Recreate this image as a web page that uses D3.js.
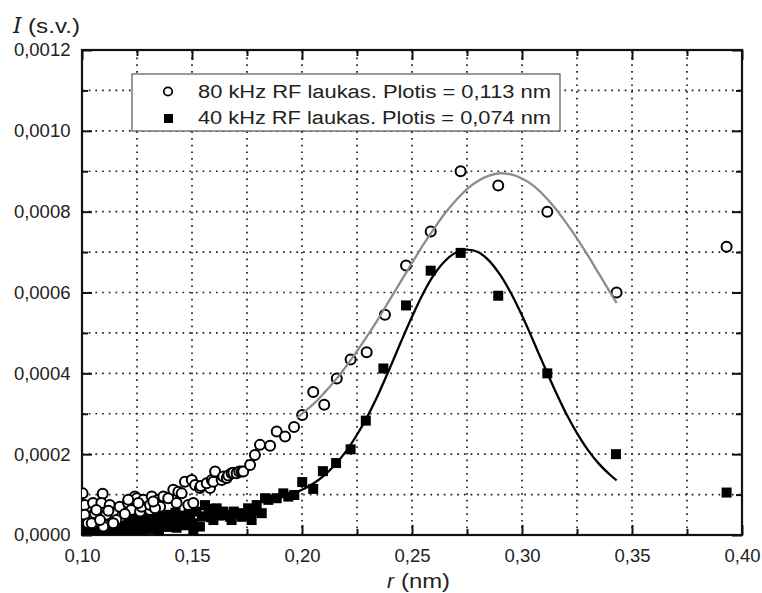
<!DOCTYPE html>
<html>
<head>
<meta charset="utf-8">
<script src="https://cdn.jsdelivr.net/npm/d3@7"></script>
<style>
  html, body { margin: 0; padding: 0; background: #fff; }
  svg { display: block; }
  text { font-family: "Liberation Sans", Arial, sans-serif; fill: #222; }
</style>
</head>
<body>
<svg id="chart" width="762" height="593"></svg>
<script>
// ---------- DATA ----------
const xTicksMajor = [0.10, 0.15, 0.20, 0.25, 0.30, 0.35, 0.40];
const xTicksMinor = [0.125, 0.175, 0.225, 0.275, 0.325, 0.375];
const yTicksMajor = [0.0000, 0.0002, 0.0004, 0.0006, 0.0008, 0.0010, 0.0012];
const yTicksMinor = [0.0001, 0.0003, 0.0005, 0.0007, 0.0009, 0.0011];

const legendLabels = ["80 kHz RF laukas. Plotis = 0,113 nm", "40 kHz RF laukas. Plotis = 0,074 nm"];

// 80 kHz series (open circles)
const circX = [0.1003,0.1094,0.1012,0.1050,0.1088,0.1126,0.1171,0.1209,0.1240,0.1012,0.1058,0.1027,0.1073,0.1110,0.1133,0.1179,0.1224,0.1103,0.1156,
  0.1044,0.1097,0.1142,0.1082,0.1264,0.1309,0.1065,0.1120,0.1195,
  0.1249,0.1279,0.1317,0.1347,0.1370,0.1392,0.1415,0.1438,0.1468,0.1499,0.1483,0.1271,0.1309,0.1355,0.1430,0.1256,0.1332,0.1210,0.1324,0.1453,
  0.1506,0.1514,0.1536,0.1559,0.1582,0.1540,0.1567,0.1590,0.1597,0.1605,0.1635,0.1642,0.1658,0.1665,0.1680,0.1688,0.1703,0.1715,0.1726,0.1733,0.1764,0.1786,0.1809,
  0.1855,0.1885,0.1923,0.1964,0.2001,0.2051,0.2101,0.2158,0.2221,0.2294,0.2377,0.2473,0.2585,0.2721,0.2892,0.3115,0.3430,0.3930];
const circY = [0.000103,0.000102,0.000074,0.000079,0.000079,0.000074,0.000070,0.000079,0.000095,0.000050,0.000054,0.000029,0.000033,0.000050,0.000029,0.000045,0.000062,0.000025,0.000037,
  0.000029,0.000021,0.000029,0.000037,0.000058,0.000062,0.000062,0.000060,0.000052,
  0.000091,0.000087,0.000095,0.000087,0.000095,0.000091,0.000112,0.000107,0.000132,0.000136,0.000074,0.000070,0.000074,0.000070,0.000079,0.000079,0.000066,0.000087,0.000083,0.000103,
  0.000079,0.000124,0.000116,0.000124,0.000116,0.000121,0.000128,0.000136,0.000132,0.000157,0.000136,0.000145,0.000141,0.000147,0.000153,0.000154,0.000153,0.000157,0.000157,0.000157,0.000173,0.000198,0.000223,
  0.000221,0.000256,0.000244,0.000267,0.000297,0.000354,0.000322,0.000387,0.000434,0.000452,0.000545,0.000667,0.000751,0.000900,0.000865,0.000800,0.000600,0.000713];

// 40 kHz series (filled squares)
const sqX = [0.1005,0.1015,0.1025,0.1035,0.1045,0.1055,0.1065,0.1075,0.1085,0.1095,0.1105,0.1115,0.1125,0.1135,0.1145,0.1155,0.1165,0.1175,0.1185,0.1195,
  0.1205,0.1215,0.1225,0.1235,0.1245,0.1255,0.1265,0.1275,0.1285,0.1295,0.1305,0.1315,0.1325,0.1335,0.1345,0.1355,0.1365,0.1375,0.1385,0.1395,
  0.1010,0.1020,0.1030,0.1040,0.1050,0.1060,0.1070,0.1080,0.1090,0.1100,0.1110,0.1120,0.1130,0.1140,0.1150,0.1160,0.1170,0.1180,0.1190,0.1200,
  0.1210,0.1220,0.1230,0.1240,0.1250,0.1260,0.1270,0.1280,0.1290,0.1300,0.1310,0.1320,0.1330,0.1340,0.1350,0.1360,0.1370,0.1380,0.1390,0.1410,
  0.1430,0.1450,0.1465,0.1485,0.1545,0.1585,0.1625,0.1690,0.1725,0.1755,0.1780,
  0.1400,0.1415,0.1425,0.1435,0.1445,0.1455,0.1476,0.1491,0.1506,0.1506,0.1521,0.1536,0.1559,0.1575,0.1597,0.1612,0.1642,0.1658,0.1673,0.1680,
  0.1711,0.1741,0.1764,0.1771,0.1794,0.1817,0.1832,0.1847,0.1885,0.1915,0.1938,0.1965,0.2001,0.2051,0.2095,0.2155,0.2221,0.2290,0.2370,0.2473,
  0.2585,0.2721,0.2892,0.3115,0.3427,0.3930];
const sqY = [0.000015,0.000030,0.000010,0.000022,0.000008,0.000018,0.000028,0.000012,0.000020,0.000005,0.000015,0.000025,0.000010,0.000030,0.000018,0.000008,0.000022,0.000035,0.000015,0.000028,
  0.000020,0.000038,0.000012,0.000030,0.000042,0.000025,0.000035,0.000018,0.000045,0.000030,0.000040,0.000022,0.000048,0.000035,0.000028,0.000021,0.000045,0.000038,0.000030,0.000050,
  0.000006,0.000012,0.000027,0.000010,0.000024,0.000006,0.000014,0.000026,0.000011,0.000022,0.000006,0.000016,0.000024,0.000009,0.000030,0.000018,0.000012,0.000024,0.000038,0.000010,
  0.000028,0.000018,0.000036,0.000014,0.000025,0.000040,0.000012,0.000030,0.000020,0.000042,0.000015,0.000032,0.000025,0.000042,0.000012,0.000032,0.000022,0.000046,0.000020,0.000036,
  0.000018,0.000040,0.000024,0.000052,0.000046,0.000044,0.000048,0.000058,0.000045,0.000066,0.000060,
  0.000029,0.000042,0.000055,0.000035,0.000048,0.000030,0.000041,0.000037,0.000029,0.000012,0.000058,0.000021,0.000074,0.000065,0.000037,0.000066,0.000058,0.000050,0.000045,0.000037,
  0.000054,0.000050,0.000058,0.000037,0.000074,0.000054,0.000091,0.000087,0.000091,0.000103,0.000095,0.000099,0.000131,0.000114,0.000158,0.000178,0.000212,0.000283,0.000412,0.000568,
  0.000654,0.000698,0.000592,0.000400,0.000200,0.000105];

// Fitted curves
const fit80X = [0.198,0.205,0.210,0.215,0.220,0.225,0.230,0.235,0.240,0.245,0.250,0.255,0.260,0.265,0.270,0.275,0.280,0.285,0.290,0.295,0.300,0.305,0.310,0.315,0.320,0.325,0.330,0.335,0.340,0.343];
const fit80Y = [0.000291,0.000323,0.000351,0.000382,0.000417,0.000455,0.000495,0.000538,0.000583,0.000628,0.000673,0.000717,0.000758,0.000796,0.000828,0.000856,0.000876,0.000889,0.000895,0.000892,0.000882,0.000865,0.000840,0.000809,0.000773,0.000734,0.000691,0.000646,0.000601,0.000574];
const fit40X = [0.196,0.200,0.205,0.210,0.215,0.220,0.225,0.230,0.235,0.240,0.245,0.250,0.255,0.260,0.265,0.270,0.275,0.280,0.285,0.290,0.295,0.300,0.305,0.310,0.315,0.320,0.325,0.330,0.335,0.340,0.343];
const fit40Y = [0.000103,0.000112,0.000127,0.000147,0.000174,0.000207,0.000248,0.000296,0.000352,0.000414,0.000478,0.000540,0.000597,0.000644,0.000678,0.000699,0.000706,0.000700,0.000679,0.000644,0.000598,0.000543,0.000482,0.000419,0.000358,0.000301,0.000252,0.000210,0.000176,0.000149,0.000135];

// ---------- DRAW ----------
const svg = d3.select("#chart");
const L = 82, R = 742, T = 50, B = 535;
const x = d3.scaleLinear().domain([0.10, 0.40]).range([L, R]);
const y = d3.scaleLinear().domain([0, 0.0012]).range([B, T]);
const commaFmt = f => v => d3.format(f)(v).replace(".", ",");

// grid
const grid = svg.append("g");
const gx = xTicksMajor.concat(xTicksMinor).filter(v => v > 0.1001 && v < 0.3999);
const gy = yTicksMajor.concat(yTicksMinor).filter(v => v > 0.000001 && v < 0.00119);
grid.selectAll("line.gx").data(gx).join("line")
  .attr("x1", d => x(d)).attr("x2", d => x(d)).attr("y1", B).attr("y2", T)
  .attr("stroke", "#222").attr("stroke-width", 1.7).attr("stroke-dasharray", "1.7,5");
grid.selectAll("line.gy").data(gy).join("line")
  .attr("y1", d => y(d)).attr("y2", d => y(d)).attr("x1", L).attr("x2", R)
  .attr("stroke", "#222").attr("stroke-width", 1.7).attr("stroke-dasharray", "1.7,5");

// axes with inward ticks
const fontSize = "18.5px";
const ax = (g, a) => { g.call(a); g.select(".domain").remove(); g.selectAll("line").attr("stroke", "#111").attr("stroke-width", 2); g.selectAll("text").style("font-size", fontSize).style("font-family", "'Liberation Sans', Arial, sans-serif").attr("fill", "#222"); };
svg.append("g").attr("transform", `translate(0,${B})`).call(g => ax(g, d3.axisBottom(x).tickValues(xTicksMajor).tickSize(-10).tickPadding(14).tickFormat(commaFmt(".2f"))));
svg.append("g").attr("transform", `translate(0,${B})`).call(g => ax(g, d3.axisBottom(x).tickValues(xTicksMinor).tickSize(-6).tickFormat("")));
svg.append("g").attr("transform", `translate(0,${T})`).call(g => ax(g, d3.axisTop(x).tickValues(xTicksMajor).tickSize(-10).tickFormat("")));
svg.append("g").attr("transform", `translate(0,${T})`).call(g => ax(g, d3.axisTop(x).tickValues(xTicksMinor).tickSize(-6).tickFormat("")));
svg.append("g").attr("transform", `translate(${L},0)`).call(g => ax(g, d3.axisLeft(y).tickValues(yTicksMajor).tickSize(-10).tickPadding(11.5).tickFormat(commaFmt(".4f"))));
svg.append("g").attr("transform", `translate(${L},0)`).call(g => ax(g, d3.axisLeft(y).tickValues(yTicksMinor).tickSize(-6).tickFormat("")));
svg.append("g").attr("transform", `translate(${R},0)`).call(g => ax(g, d3.axisRight(y).tickValues(yTicksMajor).tickSize(-10).tickFormat("")));
svg.append("g").attr("transform", `translate(${R},0)`).call(g => ax(g, d3.axisRight(y).tickValues(yTicksMinor).tickSize(-6).tickFormat("")));

// frame
svg.append("rect").attr("x", L).attr("y", T).attr("width", R - L).attr("height", B - T)
  .attr("fill", "none").attr("stroke", "#111").attr("stroke-width", 2.2);

// clip for data
svg.append("clipPath").attr("id", "clip").append("rect").attr("x", L).attr("y", T).attr("width", R - L).attr("height", B - T);
const plot = svg.append("g").attr("clip-path", "url(#clip)");

// squares
const sq = 10;
plot.selectAll("rect.sq").data(d3.range(sqX.length)).join("rect")
  .attr("x", i => x(sqX[i]) - sq / 2).attr("y", i => y(sqY[i]) - sq / 2)
  .attr("width", sq).attr("height", sq).attr("fill", "#000");

// circles
plot.selectAll("circle.c").data(d3.range(circX.length)).join("circle")
  .attr("cx", i => x(circX[i])).attr("cy", i => y(circY[i])).attr("r", 5)
  .attr("fill", "#fff").attr("stroke", "#000").attr("stroke-width", 2);

// fit lines
const line = d3.line().curve(d3.curveCatmullRom);
plot.append("path").attr("d", line(fit80X.map((v, i) => [x(v), y(fit80Y[i])])))
  .attr("fill", "none").attr("stroke", "#8c8c8c").attr("stroke-width", 2.3);
plot.append("path").attr("d", line(fit40X.map((v, i) => [x(v), y(fit40Y[i])])))
  .attr("fill", "none").attr("stroke", "#000").attr("stroke-width", 2.3);

// legend
const lg = svg.append("g");
lg.append("rect").attr("x", 132).attr("y", 74).attr("width", 428).attr("height", 57)
  .attr("fill", "#fff").attr("stroke", "#555").attr("stroke-width", 1.2);
lg.append("circle").attr("cx", 168).attr("cy", 91.5).attr("r", 4.2)
  .attr("fill", "#fff").attr("stroke", "#000").attr("stroke-width", 1.8);
lg.append("rect").attr("x", 164).attr("y", 114).attr("width", 9).attr("height", 9).attr("fill", "#000");
lg.selectAll("text").data(legendLabels).join("text")
  .attr("x", 198).attr("y", (d, i) => 97.5 + i * 26.5)
  .attr("textLength", 353).attr("lengthAdjust", "spacingAndGlyphs")
  .style("font-size", "18px").text(d => d);

// axis titles
svg.append("text").attr("x", 13).attr("y", 33).style("font-size", "22px")
  .style("font-family", "'DejaVu Serif', 'Liberation Serif', serif").style("font-style", "italic").text("I");
svg.append("text").attr("x", 28).attr("y", 33).style("font-size", "20px")
  .attr("textLength", 52).attr("lengthAdjust", "spacingAndGlyphs").text("(s.v.)");

svg.append("text").attr("x", 387).attr("y", 588).style("font-size", "21px").style("font-style", "italic").text("r");
svg.append("text").attr("x", 401).attr("y", 588).style("font-size", "20px")
  .attr("textLength", 49).attr("lengthAdjust", "spacingAndGlyphs").text("(nm)");
</script>
</body>
</html>
